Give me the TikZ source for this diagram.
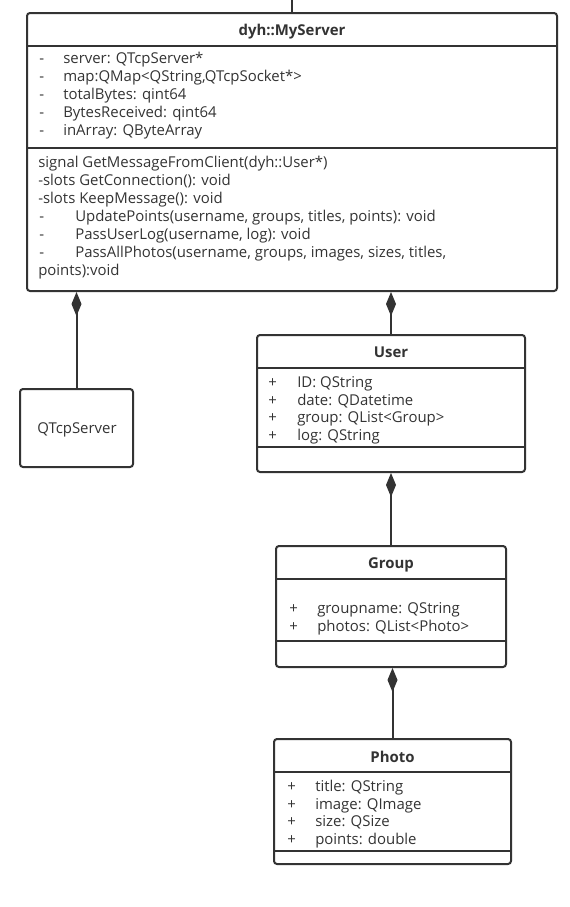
\documentclass[tikz,border=0pt]{standalone}
\usepackage{fontspec}
\setmainfont{Open Sans}
\usepackage{xcolor}
\usetikzlibrary{arrows.meta,fit}

\definecolor{umlgray}{RGB}{51,51,51}
\tikzset{
  umlbox/.style={draw=umlgray, line width=1.5pt, rounded corners=2.25pt, inner sep=0pt},
  sepline/.style={draw=umlgray, line width=1.5pt},
  compose/.style={draw=umlgray, line width=1.5pt, -{Diamond[width=7.5pt,length=18pt]}},
  member/.style={anchor=base west, inner sep=0pt, text=umlgray, font=\fontsize{11.2}{12}\selectfont},
  classname/.style={anchor=base, inner sep=0pt, text=umlgray, font=\fontsize{11.2}{12}\selectfont\bfseries},
}

\begin{document}
\begin{tikzpicture}[x=0.75pt,y=0.75pt,yscale=-1,xscale=1]
        \useasboundingbox (0,0) rectangle (569,907);

        %Shape: Rectangle [MyServer]
        \node [umlbox, fit={(27,13) (557,291)}] (server) {};
        \draw [sepline] (server.west |- 0,46) -- (server.east |- 0,46) ;
        \draw [sepline] (server.west |- 0,148) -- (server.east |- 0,148) ;
        %Shape: Rectangle [QTcpServer]
        \node [umlbox, fit={(20,389) (133,467)}] (qtcp) {};
        %Shape: Rectangle [User]
        \node [umlbox, fit={(257,335) (525,472)}] (user) {};
        \draw [sepline] (user.west |- 0,368) -- (user.east |- 0,368) ;
        \draw [sepline] (user.west |- 0,447) -- (user.east |- 0,447) ;
        %Shape: Rectangle [Group]
        \node [umlbox, fit={(276,546) (506,667)}] (group) {};
        \draw [sepline] (group.west |- 0,579) -- (group.east |- 0,579) ;
        \draw [sepline] (group.west |- 0,641) -- (group.east |- 0,641) ;
        %Shape: Rectangle [Photo]
        \node [umlbox, fit={(274,739) (511,864)}] (photo) {};
        \draw [sepline] (photo.west |- 0,772) -- (photo.east |- 0,772) ;
        \draw [sepline] (photo.west |- 0,851) -- (photo.east |- 0,851) ;

        %Straight Lines
        \coordinate (top) at (292,0);
        \draw [sepline] (top) -- (server.north) ;
        \draw [compose] (qtcp.north) -- (qtcp.north |- server.south) ;
        \draw [compose] (user.north) -- (user.north |- server.south) ;
        \draw [compose] (group.north) -- (group.north |- user.south) ;
        \draw [compose] (photo.north) -- (photo.north |- group.south) ;

        % Text Node
        \node [classname] (servername) at (292,35) {dyh::MyServer};
        % Text Node
        \node [member] (sa1) at (39,63) {-};
        \node [member] (sb1) at (63,63) {server: QTcpServer*};
        \node [member] (sa2) at (39,81) {-};
        \node [member] (sb2) at (63,81) {map:QMap<QString,QTcpSocket*>};
        \node [member] (sa3) at (39,99) {-};
        \node [member] (sb3) at (63,99) {totalBytes: qint64};
        \node [member] (sa4) at (39,117) {-};
        \node [member] (sb4) at (63,117) {BytesReceived: qint64};
        \node [member] (sa5) at (39,135) {-};
        \node [member] (sb5) at (63,135) {inArray: QByteArray};
        % Text Node
        \node [member] (sm1) at (38,167) {signal GetMessageFromClient(dyh::User*)};
        \node [member] (sm2) at (38,185) {-slots GetConnection(): void};
        \node [member] (sm3) at (38,203) {-slots KeepMessage(): void};
        \node [member] (sma4) at (39,221) {-};
        \node [member] (smb4) at (75,221) {UpdatePoints(username, groups, titles, points): void};
        \node [member] (sma5) at (39,239) {-};
        \node [member] (smb5) at (75,239) {PassUserLog(username, log): void};
        \node [member] (sma6) at (39,257) {-};
        \node [member] (smb6) at (75,257) {PassAllPhotos(username, groups, images, sizes, titles,};
        \node [member] (sm7) at (38,275) {points):void};

        % Text Node
        \node [member, anchor=base] (qtcpname) at (77,433) {QTcpServer};

        % Text Node
        \node [classname] (username) at (391,357) {User};
        \node [member] (ua1) at (268,387) {+};
        \node [member] (ub1) at (297,387) {ID: QString};
        \node [member] (ua2) at (268,405) {+};
        \node [member] (ub2) at (297,405) {date: QDatetime};
        \node [member] (ua3) at (268,422) {+};
        \node [member] (ub3) at (297,422) {group: QList<Group>};
        \node [member] (ua4) at (268,440) {+};
        \node [member] (ub4) at (297,440) {log: QString};

        % Text Node
        \node [classname] (groupname) at (391,568) {Group};
        \node [member] (ga1) at (289,613) {+};
        \node [member] (gb1) at (317,613) {groupname: QString};
        \node [member] (ga2) at (289,631) {+};
        \node [member] (gb2) at (317,631) {photos: QList<Photo>};

        % Text Node
        \node [classname] (photoname) at (392.5,762) {Photo};
        \node [member] (pa1) at (287,791) {+};
        \node [member] (pb1) at (315,791) {title: QString};
        \node [member] (pa2) at (287,809) {+};
        \node [member] (pb2) at (315,809) {image: QImage};
        \node [member] (pa3) at (287,826) {+};
        \node [member] (pb3) at (315,826) {size: QSize};
        \node [member] (pa4) at (287,844) {+};
        \node [member] (pb4) at (315,844) {points: double};

\end{tikzpicture}
\end{document}
